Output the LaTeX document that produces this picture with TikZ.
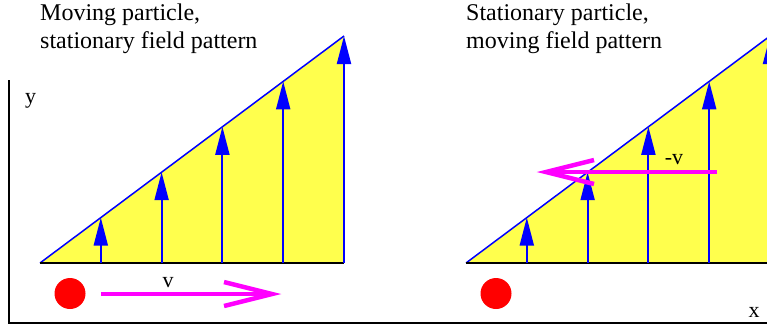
\documentclass[tikz,border=0pt]{standalone}
\usepackage{fontspec}
\setmainfont{Liberation Serif}
\usetikzlibrary{arrows.meta}
\definecolor{fieldyellow}{RGB}{255,255,77}
\definecolor{velmag}{RGB}{255,0,255}
\begin{document}
\begin{tikzpicture}[x=1pt,y=-1pt,
  field/.style={blue, line width=2pt, -{Triangle[length=28pt,width=14pt]}},
  hyp/.style={blue, line width=1.5pt},
  basel/.style={black, line width=2pt},
  axisline/.style={black, line width=2pt},
  vel/.style={velmag, line width=4.5pt, line cap=butt, line join=miter},
  lab/.style={font=\fontsize{22}{26}\selectfont, inner sep=0pt},
  titletext/.style={font=\fontsize{24}{28}\selectfont, inner sep=0pt, anchor=base west},
  particle/.style={circle, fill=red, minimum size=31pt, inner sep=0pt}]
\clip (0,0) rectangle (767,330);
\fill[white] (0,0) rectangle (767,330);

% titles
\node[titletext] (tL1) at (40,20) {Moving particle,};
\node[titletext] (tL2) at (40,48) {stationary field pattern};
\node[titletext] (tR1) at (466,20) {Stationary particle,};
\node[titletext] (tR2) at (466,48) {moving field pattern};

% left panel
\coordinate (L0) at (40,263);
\coordinate (Lapex) at (344,36);
\coordinate (Lcorner) at (344,263);
\fill[fieldyellow] (L0) -- (Lapex) -- (Lcorner) -- cycle;
\draw[hyp] (L0) -- (Lapex);
\draw[basel] (L0) -- (Lcorner);
\foreach \i in {1,...,5} {
  \coordinate (Lb\i) at ({40+60.8*\i},263);
  \coordinate (Lt\i) at ({40+60.8*\i},{263-45.4*\i});
  \draw[field] (Lb\i) -- (Lt\i);
}
\node[particle] (dotL) at (70,293.5) {};
\coordinate (vLs) at (101,294);
\coordinate (vLt) at (272,294);
\draw[vel] (vLs) -- (vLt);
\draw[vel] (vLt) ++(-48,-12) -- (vLt) -- ++(-48,12);
\node[lab, anchor=base] (vlabL) at (168,287) {v};

% right panel
\coordinate (R0) at (466,263);
\coordinate (Rapex) at (770,36);
\coordinate (Rcorner) at (770,263);
\fill[fieldyellow] (R0) -- (Rapex) -- (Rcorner) -- cycle;
\draw[hyp] (R0) -- (Rapex);
\draw[basel] (R0) -- (Rcorner);
\foreach \i in {1,...,5} {
  \coordinate (Rb\i) at ({466+60.8*\i},263);
  \coordinate (Rt\i) at ({466+60.8*\i},{263-45.4*\i});
  \draw[field] (Rb\i) -- (Rt\i);
}
\node[particle] (dotR) at (496,293.5) {};
\coordinate (vRs) at (717,172);
\coordinate (vRt) at (546,172);
\draw[vel] (vRs) -- (vRt);
\draw[vel] (vRt) ++(48,-12) -- (vRt) -- ++(48,12);
\node[lab, anchor=base] (vlabR) at (674,164) {-v};

% axes
\coordinate (ytop) at (9,80);
\coordinate (O) at (9,323);
\coordinate (xend) at (767,323);
\draw[axisline] (ytop) -- (O) -- (xend);
\node[lab, anchor=base] (ylab) at (30.5,103) {y};
\node[lab, anchor=base] (xlab) at (754,317) {x};
\end{tikzpicture}
\end{document}
